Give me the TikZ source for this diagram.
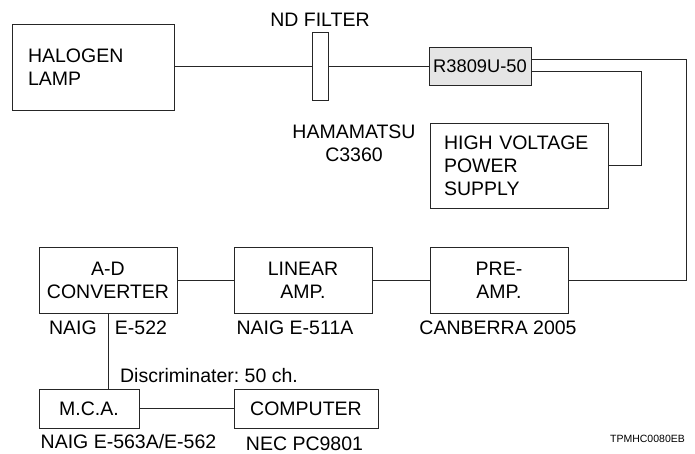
\documentclass[tikz,border=0pt]{standalone}
\usepackage{fontspec}
\setmainfont{Liberation Sans}
\frenchspacing
\begin{document}
\begin{tikzpicture}[
  x=1pt, y=-1pt,
  box/.style = {draw=black!85, line width=0.8pt, align=center, inner sep=0pt,
                font=\fontsize{19.5}{23}\selectfont},
  lbox/.style = {box, align=left},
  tag/.style = {align=center, inner sep=0pt, font=\fontsize{19.5}{23}\selectfont},
  wire/.style = {draw=black!85, line width=0.8pt}
]
\useasboundingbox (0,0) rectangle (695,454);

% Top row: lamp, filter and tube, y=66
\node [lbox, minimum width=162, minimum height=86, text width=130] (lamp) at (93,67)
  {HALOGEN\\LAMP};
\node [box, minimum width=16, minimum height=68] (ndf) at (320,66) {};
\node [tag] (ndflabel) at (320,20) {ND FILTER};
\node [box, fill=gray!20, minimum width=102, minimum height=38,
       font=\fontsize{18.3}{22}\selectfont] (pmt) at (480,66)
  {R3809U-50};

% High voltage supply, y=165
\node [lbox, minimum width=178, minimum height=85, text width=150] (hv) at (519,165.5)
  {HIGH VOLTAGE\\POWER\\SUPPLY};
\node [tag] (hvlabel) at (354,143) {HAMAMATSU\\C3360};

% Row 2: y=280
\node [box, minimum width=138, minimum height=66] (adc) at (108,280.5)
  {A-D\\CONVERTER};
\node [box, minimum width=138, minimum height=66] (lin) at (303,280.5)
  {LINEAR\\AMP.};
\node [box, minimum width=138, minimum height=66] (pre) at (499,280.5)
  {PRE-\\AMP.};
\node [tag] (adclabel1) at (73,328) {NAIG};
\node [tag] (adclabel2) at (141,328) {E-522};
\node [tag] (linlabel) at (295,328) {NAIG E-511A};
\node [tag] (prelabel) at (498,328) {CANBERRA 2005};

% Row 3: y=408
\node [box, minimum width=100, minimum height=39] (mca) at (89,408.5) {M.C.A.};
\node [box, minimum width=144, minimum height=39] (comp) at (306,408.5) {COMPUTER};
\node [tag] (disclabel) at (209,376) {Discriminater: 50 ch.};
\node [tag] (mcalabel) at (128.5,442) {NAIG E-563A/E-562};
\node [tag] (complabel) at (304.5,444) {NEC PC9801};
\node [tag, font=\fontsize{10.5}{12}\selectfont] (figid) at (647.5,439) {TPMHC0080EB};

% Turning points
\coordinate (rside) at (686,0);
\coordinate (hvturn) at (641,0);

% Light path
\draw [wire] (lamp.east |- ndf) -- (ndf);
\draw [wire] (ndf) -- (pmt);

% Tube wiring
\draw [wire] ([yshift=7pt]pmt.east) -| (rside |- pre) -- (pre);
\draw [wire] ([yshift=-5pt]pmt.east) -| (hvturn |- hv) -- (hv);

% Signal chain
\draw [wire] (pre) -- (lin);
\draw [wire] (lin) -- (adc);
\draw [wire] (adc.south) -- (adc.south |- mca.north);
\draw [wire] (mca) -- (comp);

\end{tikzpicture}
\end{document}
